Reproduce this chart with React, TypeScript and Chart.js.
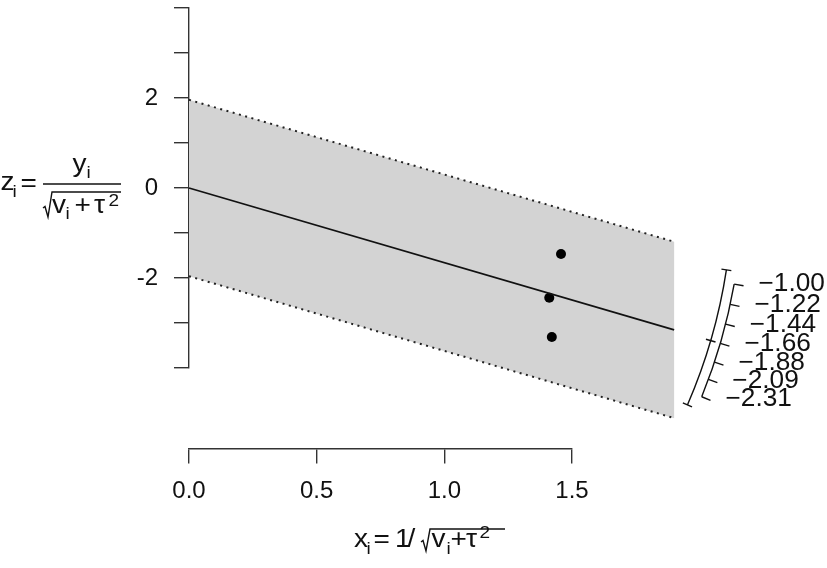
import React, { useEffect, useRef } from 'react';
import { Chart, registerables } from 'chart.js';

Chart.register(...registerables);

const FONT = '"Liberation Sans", Arial, Helvetica, sans-serif';

// ---- data ----
const studyX = [1.457, 1.411, 1.421];
const studyZ = [-1.465, -2.44, -3.31];
const estimate = -1.66;
const ciLower = -2.47;
const ciUpper = -0.865;
const bandZ = 1.96;
const bandXMax = 1.9;
const xTickValues = [0, 0.5, 1.0, 1.5];
const yTickValues = [-4, -3, -2, -1, 0, 1, 2, 3, 4];
const yLabeledTicks = [-2, 0, 2];
const arcValues = [-1.0, -1.22, -1.44, -1.66, -1.88, -2.09, -2.31];
const arcLabels = ['−1.00', '−1.22', '−1.44', '−1.66', '−1.88', '−2.09', '−2.31'];

const TEXT = '#111';
const AXIS = '#333';

function txt(ctx: CanvasRenderingContext2D, s: string, x: number, y: number, size: number, sx = 1.12) {
  ctx.save();
  ctx.font = `${size}px ${FONT}`;
  ctx.translate(x, y);
  ctx.scale(sx, 1);
  ctx.fillText(s, 0, 0);
  ctx.restore();
}

function radical(ctx: CanvasRenderingContext2D, x0: number, yTop: number, yBot: number, xEnd: number) {
  ctx.beginPath();
  const ym = yBot - 9;
  ctx.moveTo(x0, ym);
  ctx.lineTo(x0 + 2, ym - 1.5);
  ctx.lineTo(x0 + 5, yBot);
  ctx.lineTo(x0 + 9, yTop);
  ctx.lineTo(xEnd, yTop);
  ctx.stroke();
}

const overlayPlugin = {
  id: 'overlay',
  beforeDatasetsDraw(chart: any) {
    const { ctx, scales } = chart;
    const x = scales.x;
    const y = scales.y;
    const pts = [
      [0, bandZ],
      [bandXMax, bandZ + estimate * bandXMax],
      [bandXMax, -bandZ + estimate * bandXMax],
      [0, -bandZ],
    ];
    ctx.save();
    ctx.fillStyle = '#d3d3d3';
    ctx.beginPath();
    pts.forEach(([a, b], i) => {
      const px = x.getPixelForValue(a);
      const py = y.getPixelForValue(b);
      if (i === 0) ctx.moveTo(px, py);
      else ctx.lineTo(px, py);
    });
    ctx.closePath();
    ctx.fill();
    ctx.restore();
  },
  afterDraw(chart: any) {
    const { ctx, scales } = chart;
    const x = scales.x;
    const y = scales.y;
    const ox = x.getPixelForValue(0);
    const oy = y.getPixelForValue(0);
    const kx = x.getPixelForValue(1) - ox;
    const ky = oy - y.getPixelForValue(1);
    const ang = (b: number) => Math.atan2(-b * ky, kx);
    const at = (b: number, r: number) => {
      const a = ang(b);
      return [ox + Math.cos(a) * r, oy + Math.sin(a) * r];
    };
    const rCI = 2.129 * kx;
    const rScale = 2.168 * kx;

    ctx.save();
    ctx.strokeStyle = '#111';
    ctx.lineWidth = 1.4;
    // CI arc
    ctx.beginPath();
    ctx.arc(ox, oy, rCI, ang(ciUpper), ang(ciLower), false);
    ctx.stroke();
    [ciLower, estimate, ciUpper].forEach((b) => {
      const p1 = at(b, rCI - 5);
      const p2 = at(b, rCI + 5);
      ctx.beginPath();
      ctx.moveTo(p1[0], p1[1]);
      ctx.lineTo(p2[0], p2[1]);
      ctx.stroke();
    });
    // scale arc
    const vmax = Math.max(...arcValues);
    const vmin = Math.min(...arcValues);
    ctx.beginPath();
    ctx.arc(ox, oy, rScale, ang(vmax), ang(vmin), false);
    ctx.stroke();
    ctx.fillStyle = TEXT;
    ctx.textAlign = 'left';
    ctx.textBaseline = 'middle';
    arcValues.forEach((v, i) => {
      const p1 = at(v, rScale);
      const p2 = at(v, rScale + 9.5);
      ctx.beginPath();
      ctx.moveTo(p1[0], p1[1]);
      ctx.lineTo(p2[0], p2[1]);
      ctx.stroke();
      txt(ctx, arcLabels[i], p2[0] + 15, p2[1] - 1.5, 25, 1.05);
    });

    // ---- y title: z_i = y_i / sqrt(v_i + tau^2)
    ctx.textBaseline = 'alphabetic';
    ctx.textAlign = 'left';
    txt(ctx, 'z', 0.5, 190, 25);
    txt(ctx, 'i', 12.5, 197, 17);
    txt(ctx, '=', 20.5, 191, 25);
    ctx.beginPath();
    ctx.moveTo(43, 184);
    ctx.lineTo(121, 184);
    ctx.stroke();
    txt(ctx, 'y', 72.5, 172, 25);
    txt(ctx, 'i', 86.5, 178, 17);
    radical(ctx, 43, 192, 217, 121);
    txt(ctx, 'v', 52, 213, 25);
    txt(ctx, 'i', 65.5, 219, 17);
    txt(ctx, '+', 74.5, 213, 25);
    txt(ctx, 'τ', 94, 213, 25);
    txt(ctx, '2', 108.5, 206, 17);

    // ---- x title: x_i = 1 / sqrt(v_i + tau^2)
    txt(ctx, 'x', 354, 547, 25);
    txt(ctx, 'i', 366.5, 554, 17);
    txt(ctx, '=', 373.5, 547, 25);
    txt(ctx, '1', 395, 547, 25);
    txt(ctx, '/', 407.5, 547, 25);
    radical(ctx, 421, 529, 551, 505);
    txt(ctx, 'v', 431.5, 547, 25);
    txt(ctx, 'i', 446.5, 554, 17);
    txt(ctx, '+', 450.5, 547, 25);
    txt(ctx, 'τ', 466, 547, 25);
    txt(ctx, '2', 479.5, 538, 17);
    ctx.restore();
  },
};

export default function App() {
  const ref = useRef<HTMLCanvasElement | null>(null);
  useEffect(() => {
    if (!ref.current) return;
    const lineTo = (z0: number) => [
      { x: 0, y: z0 },
      { x: bandXMax, y: z0 + estimate * bandXMax },
    ];
    const chart = new Chart(ref.current, {
      type: 'scatter',
      data: {
        datasets: [
          {
            data: lineTo(bandZ),
            showLine: true,
            borderColor: '#222',
            borderWidth: 2,
            borderDash: [2, 4.5],
            pointRadius: 0,
            clip: false,
          } as any,
          {
            data: lineTo(-bandZ),
            showLine: true,
            borderColor: '#222',
            borderWidth: 2,
            borderDash: [2, 4.5],
            pointRadius: 0,
            clip: false,
          } as any,
          {
            data: lineTo(0),
            showLine: true,
            borderColor: '#111',
            borderWidth: 1.7,
            pointRadius: 0,
            clip: false,
          } as any,
          {
            data: studyX.map((v, i) => ({ x: v, y: studyZ[i] })),
            pointRadius: 5,
            pointBackgroundColor: '#000',
            pointBorderWidth: 0,
            showLine: false,
            clip: false,
          } as any,
        ],
      },
      options: {
        animation: false,
        responsive: true,
        maintainAspectRatio: false,
        events: [],
        layout: { padding: { left: 0, right: 255, top: 8, bottom: 200 } },
        plugins: { legend: { display: false }, tooltip: { enabled: false } },
        scales: {
          x: {
            type: 'linear',
            position: { y: -5.8 } as any,
            min: 0,
            max: 1.5,
            afterBuildTicks: (s: any) => {
              s.ticks = xTickValues.map((v) => ({ value: v }));
            },
            afterFit: (s: any) => {
              s.paddingLeft = 0;
              s.paddingRight = 0;
            },
            grid: {
              display: true,
              drawOnChartArea: false,
              drawTicks: true,
              tickLength: 14,
              tickColor: AXIS,
              lineWidth: 1.4,
            },
            border: { display: true, color: AXIS, width: 1.4 },
            ticks: {
              color: TEXT,
              font: { family: FONT, size: 24 },
              padding: 14,
              maxRotation: 0,
              autoSkip: false,
              callback: (v: any) => Number(v).toFixed(1),
            },
          },
          y: {
            type: 'linear',
            position: 'left',
            min: -4,
            max: 4,
            afterBuildTicks: (s: any) => {
              s.ticks = yTickValues.map((v) => ({ value: v }));
            },
            afterFit: (s: any) => {
              s.width = 189;
              s.paddingTop = 0;
              s.paddingBottom = 0;
            },
            grid: {
              display: true,
              drawOnChartArea: false,
              drawTicks: true,
              tickLength: 15,
              tickColor: AXIS,
              lineWidth: 1.4,
            },
            border: { display: true, color: AXIS, width: 1.4 },
            ticks: {
              color: TEXT,
              font: { family: FONT, size: 24 },
              padding: 16,
              autoSkip: false,
              callback: (v: any) => (yLabeledTicks.includes(Number(v)) ? String(v) : ''),
            },
          },
        },
      } as any,
      plugins: [overlayPlugin],
    });
    return () => chart.destroy();
  }, []);
  return (
    <div style={{ position: 'fixed', left: 0, top: 0, width: 827, height: 568, background: '#fff' }}>
      <canvas ref={ref} />
    </div>
  );
}
